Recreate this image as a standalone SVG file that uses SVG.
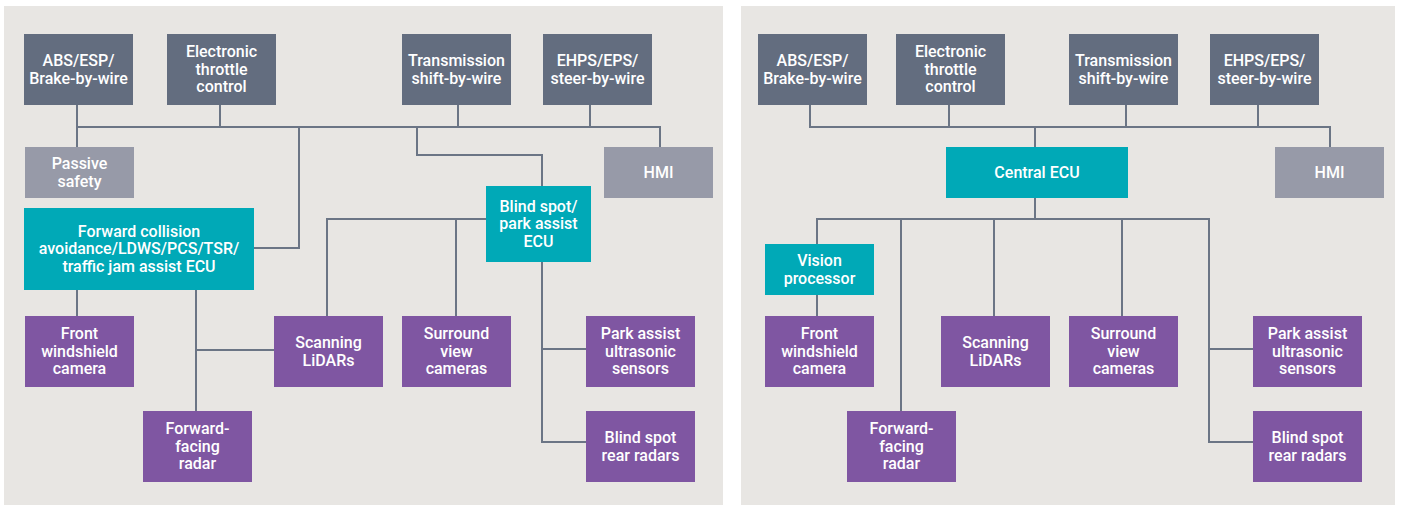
<svg xmlns="http://www.w3.org/2000/svg" width="1401" height="506" viewBox="0 0 1401 506">
<style>
.panel{fill:#E8E6E3}
.dk{fill:#636D7F}
.gy{fill:#979AA8}
.tl{fill:#00A9B7}
.pu{fill:#7F56A2}
.lines{fill:none;stroke:#6B7585;stroke-width:2}
text{font-family:Roboto,"Liberation Sans",sans-serif;font-weight:500;font-size:16px;fill:#FFFFFF;text-anchor:middle}
</style>
<rect x="0" y="0" width="1401" height="506" fill="#FFFFFF"/>
<rect class="panel" x="4" y="6" width="719" height="499"/>
<rect class="panel" x="741" y="6" width="654" height="499"/>
<g id="connectors" class="lines">
<path d="M77 105V147M77 127H660V147M220 105V127M458 105V127M590 105V127"/>
<path d="M299 127V248H254"/>
<path d="M417 127V155H542V186"/>
<path d="M77 290V316"/>
<path d="M196 290V411M196 350H274"/>
<path d="M486 219H327V316M456 219V316"/>
<path d="M542 262V442H586M542 349H586"/>
<path d="M810 105V127H1330V147M949 105V127M1126 105V127M1258 105V127M1035 127V147"/>
<path d="M1035 198V219M817 244V219H1209V442H1253M1209 349H1253"/>
<path d="M817 295V316M901 219V411M994 219V316M1122 219V316"/>
</g>
<g id="l-abs"><rect class="dk" x="24" y="34" width="109" height="71"/><text x="78.5" y="66">ABS/ESP/</text><text x="78.5" y="83.5">Brake-by-wire</text></g>
<g id="l-etc"><rect class="dk" x="167" y="34" width="109" height="71"/><text x="221.5" y="57.3">Electronic</text><text x="221.5" y="74.8">throttle</text><text x="221.5" y="92.3">control</text></g>
<g id="l-trans"><rect class="dk" x="402" y="34" width="109" height="71"/><text x="456.5" y="66">Transmission</text><text x="456.5" y="83.5">shift-by-wire</text></g>
<g id="l-ehps"><rect class="dk" x="543" y="34" width="109" height="71"/><text x="597.5" y="66">EHPS/EPS/</text><text x="597.5" y="83.5">steer-by-wire</text></g>
<g id="l-passive"><rect class="gy" x="25" y="147" width="109" height="51"/><text x="79.5" y="169.1">Passive</text><text x="79.5" y="186.6">safety</text></g>
<g id="l-hmi"><rect class="gy" x="604" y="147" width="109" height="51"/><text x="658.5" y="178">HMI</text></g>
<g id="l-bsecu"><rect class="tl" x="486" y="186" width="105" height="76"/><text x="538.5" y="211.8">Blind spot/</text><text x="538.5" y="229.3">park assist</text><text x="538.5" y="246.8">ECU</text></g>
<g id="l-fca"><rect class="tl" x="24" y="208" width="230" height="82"/><text x="139" y="236.8">Forward collision</text><text x="139" y="254.3">avoidance/LDWS/PCS/TSR/</text><text x="139" y="271.8">traffic jam assist ECU</text></g>
<g id="l-fcam"><rect class="pu" x="25" y="316" width="109" height="71"/><text x="79.5" y="339.3">Front</text><text x="79.5" y="356.8">windshield</text><text x="79.5" y="374.3">camera</text></g>
<g id="l-radar"><rect class="pu" x="143" y="411" width="109" height="71"/><text x="197.5" y="434.3">Forward-</text><text x="197.5" y="451.8">facing</text><text x="197.5" y="469.3">radar</text></g>
<g id="l-lidar"><rect class="pu" x="274" y="316" width="109" height="71"/><text x="328.5" y="348">Scanning</text><text x="328.5" y="365.5">LiDARs</text></g>
<g id="l-surround"><rect class="pu" x="402" y="316" width="109" height="71"/><text x="456.5" y="339.3">Surround</text><text x="456.5" y="356.8">view</text><text x="456.5" y="374.3">cameras</text></g>
<g id="l-park"><rect class="pu" x="586" y="316" width="109" height="71"/><text x="640.5" y="339.3">Park assist</text><text x="640.5" y="356.8">ultrasonic</text><text x="640.5" y="374.3">sensors</text></g>
<g id="l-bsr"><rect class="pu" x="586" y="411" width="109" height="71"/><text x="640.5" y="443">Blind spot</text><text x="640.5" y="460.5">rear radars</text></g>
<g id="r-abs"><rect class="dk" x="758" y="34" width="109" height="71"/><text x="812.5" y="66">ABS/ESP/</text><text x="812.5" y="83.5">Brake-by-wire</text></g>
<g id="r-etc"><rect class="dk" x="896" y="34" width="109" height="71"/><text x="950.5" y="57.3">Electronic</text><text x="950.5" y="74.8">throttle</text><text x="950.5" y="92.3">control</text></g>
<g id="r-trans"><rect class="dk" x="1069" y="34" width="109" height="71"/><text x="1123.5" y="66">Transmission</text><text x="1123.5" y="83.5">shift-by-wire</text></g>
<g id="r-ehps"><rect class="dk" x="1210" y="34" width="109" height="71"/><text x="1264.5" y="66">EHPS/EPS/</text><text x="1264.5" y="83.5">steer-by-wire</text></g>
<g id="r-central"><rect class="tl" x="946" y="147" width="182" height="51"/><text x="1037" y="178">Central ECU</text></g>
<g id="r-hmi"><rect class="gy" x="1275" y="147" width="109" height="51"/><text x="1329.5" y="178">HMI</text></g>
<g id="r-vision"><rect class="tl" x="765" y="244" width="109" height="51"/><text x="819.5" y="266">Vision</text><text x="819.5" y="283.5">processor</text></g>
<g id="r-fcam"><rect class="pu" x="765" y="316" width="109" height="71"/><text x="819.5" y="339.3">Front</text><text x="819.5" y="356.8">windshield</text><text x="819.5" y="374.3">camera</text></g>
<g id="r-radar"><rect class="pu" x="847" y="411" width="109" height="71"/><text x="901.5" y="434.3">Forward-</text><text x="901.5" y="451.8">facing</text><text x="901.5" y="469.3">radar</text></g>
<g id="r-lidar"><rect class="pu" x="941" y="316" width="109" height="71"/><text x="995.5" y="348">Scanning</text><text x="995.5" y="365.5">LiDARs</text></g>
<g id="r-surround"><rect class="pu" x="1069" y="316" width="109" height="71"/><text x="1123.5" y="339.3">Surround</text><text x="1123.5" y="356.8">view</text><text x="1123.5" y="374.3">cameras</text></g>
<g id="r-park"><rect class="pu" x="1253" y="316" width="109" height="71"/><text x="1307.5" y="339.3">Park assist</text><text x="1307.5" y="356.8">ultrasonic</text><text x="1307.5" y="374.3">sensors</text></g>
<g id="r-bsr"><rect class="pu" x="1253" y="411" width="109" height="71"/><text x="1307.5" y="443">Blind spot</text><text x="1307.5" y="460.5">rear radars</text></g>
</svg>
